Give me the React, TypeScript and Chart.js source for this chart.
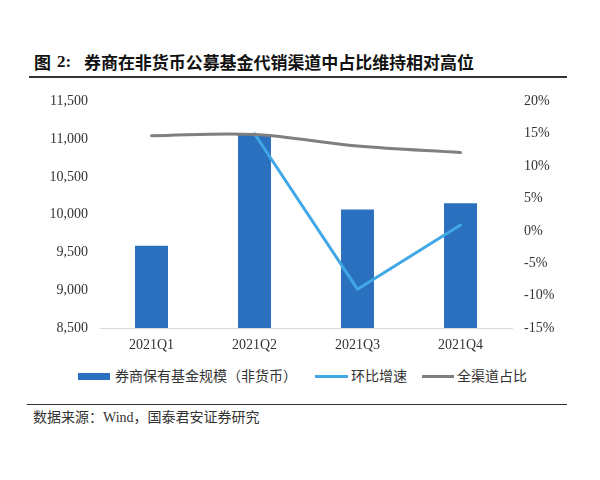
import React, { useEffect, useRef } from "react";
import { Chart, registerables } from "chart.js";

Chart.register(...registerables);

// ---- data ----
const categories = ["2021Q1", "2021Q2", "2021Q3", "2021Q4"];
const brokerFundScale = [9590, 11070, 10070, 10150]; // 券商保有基金规模（非货币）
const qoqGrowth = [null, 15.0, -9.0, 0.9]; // 环比增速 (%)
const channelShare = [14.7, 14.9, 13.1, 12.1]; // 全渠道占比 (%)
const leftAxisRange = [8500, 11500, 500];
const rightAxisRange = [-15, 20, 5];

const seriesNames = ["券商保有基金规模（非货币）", "环比增速", "全渠道占比"];
const titleParts = ["图", "2:", "券商在非货币公募基金代销渠道中占比维持相对高位"];
const sourceText = "数据来源：Wind，国泰君安证券研究";

const BAR_COLOR = "#2A70BF";
const GROWTH_COLOR = "#41A8E6";
const SHARE_COLOR = "#7F7F7F";
const TEXT_COLOR = "#333333";
const AXIS_FONT = { family: "'Liberation Serif', 'Times New Roman', serif", size: 14 };
const CJK = "'Noto Sans CJK SC', 'Noto Sans', sans-serif";

export default function App() {
  const ref = useRef<HTMLCanvasElement | null>(null);

  useEffect(() => {
    if (!ref.current) return;
    const chart = new Chart(ref.current, {
      type: "bar",
      data: {
        labels: categories,
        datasets: [
          {
            type: "line",
            label: seriesNames[2],
            data: channelShare,
            yAxisID: "y1",
            borderColor: SHARE_COLOR,
            borderWidth: 3,
            tension: 0.35,
            pointRadius: 0,
            borderJoinStyle: "round",
            borderCapStyle: "round",
            order: 0,
          } as any,
          {
            type: "line",
            label: seriesNames[1],
            data: qoqGrowth,
            yAxisID: "y1",
            borderColor: GROWTH_COLOR,
            borderWidth: 3,
            tension: 0,
            pointRadius: 0,
            borderJoinStyle: "round",
            borderCapStyle: "round",
            order: 1,
          } as any,
          {
            type: "bar",
            label: seriesNames[0],
            data: brokerFundScale,
            yAxisID: "y",
            backgroundColor: BAR_COLOR,
            barPercentage: 0.32,
            categoryPercentage: 1,
            order: 2,
          } as any,
        ],
      },
      options: {
        responsive: false,
        animation: false,
        events: [],
        layout: { padding: { top: 10, left: 0, right: 0, bottom: 0 } },
        plugins: { legend: { display: false }, tooltip: { enabled: false } },
        scales: {
          x: {
            grid: { display: false, drawTicks: false },
            border: { display: true, color: "#D9D9D9", width: 1 },
            ticks: { font: AXIS_FONT, color: TEXT_COLOR, padding: 9 },
            afterFit: (s: any) => {
              s.height = 32;
            },
          },
          y: {
            position: "left",
            min: leftAxisRange[0],
            max: leftAxisRange[1],
            grid: { display: false, drawTicks: false },
            border: { display: false },
            ticks: {
              stepSize: leftAxisRange[2],
              font: AXIS_FONT,
              color: TEXT_COLOR,
              padding: 12,
              callback: (v: any) => Number(v).toLocaleString("en-US"),
            },
            afterFit: (s: any) => {
              s.width = 100;
            },
          },
          y1: {
            position: "right",
            min: rightAxisRange[0],
            max: rightAxisRange[1],
            grid: { display: false, drawTicks: false },
            border: { display: false },
            ticks: {
              stepSize: rightAxisRange[2],
              font: AXIS_FONT,
              color: TEXT_COLOR,
              padding: 12,
              callback: (v: any) => `${v}%`,
            },
            afterFit: (s: any) => {
              s.width = 88;
            },
          },
        },
      } as any,
    });
    return () => chart.destroy();
  }, []);

  const abs = (left: number, cy: number, size: number, extra: any = {}) => ({
    position: "absolute" as const,
    left,
    top: cy - size * 0.7,
    lineHeight: `${size * 1.4}px`,
    fontSize: size,
    whiteSpace: "nowrap" as const,
    ...extra,
  });

  return (
    <div
      style={{
        position: "absolute",
        left: 0,
        top: 0,
        width: 600,
        height: 480,
        background: "#fff",
        overflow: "hidden",
      }}
    >
      {/* title */}
      <div style={abs(34, 62, 17, { fontFamily: CJK, fontWeight: 700, color: "#111" })}>{titleParts[0]}</div>
      <div style={abs(57, 62, 17, { fontFamily: "'Liberation Serif', serif", fontWeight: 700, color: "#111" })}>
        {titleParts[1]}
      </div>
      <div style={abs(84, 62, 17, { fontFamily: CJK, fontWeight: 700, color: "#111", letterSpacing: "-0.05px" })}>
        {titleParts[2]}
      </div>
      <div style={{ position: "absolute", left: 29, top: 76, width: 538, height: 1.5, background: "#333" }} />

      {/* chart */}
      <canvas
        ref={ref}
        width={600}
        height={279}
        style={{ position: "absolute", left: 0, top: 81, width: 600, height: 279, display: "block" }}
      />

      {/* legend */}
      <div style={{ position: "absolute", left: 78, top: 373, width: 32, height: 7, background: BAR_COLOR }} />
      <div style={abs(115, 376, 14, { fontFamily: CJK, color: TEXT_COLOR })}>{seriesNames[0]}</div>
      <div style={{ position: "absolute", left: 315, top: 374.5, width: 33, height: 3, background: GROWTH_COLOR }} />
      <div style={abs(351, 376, 14, { fontFamily: CJK, color: TEXT_COLOR })}>{seriesNames[1]}</div>
      <div style={{ position: "absolute", left: 422, top: 374.5, width: 32, height: 3, background: SHARE_COLOR }} />
      <div style={abs(457, 376, 14, { fontFamily: CJK, color: TEXT_COLOR })}>{seriesNames[2]}</div>

      {/* source */}
      <div style={{ position: "absolute", left: 27, top: 404, width: 540, height: 1, background: "#333" }} />
      <div style={abs(33, 418, 14, { fontFamily: `'Liberation Serif', ${CJK}`, color: TEXT_COLOR })}>{sourceText}</div>
    </div>
  );
}
